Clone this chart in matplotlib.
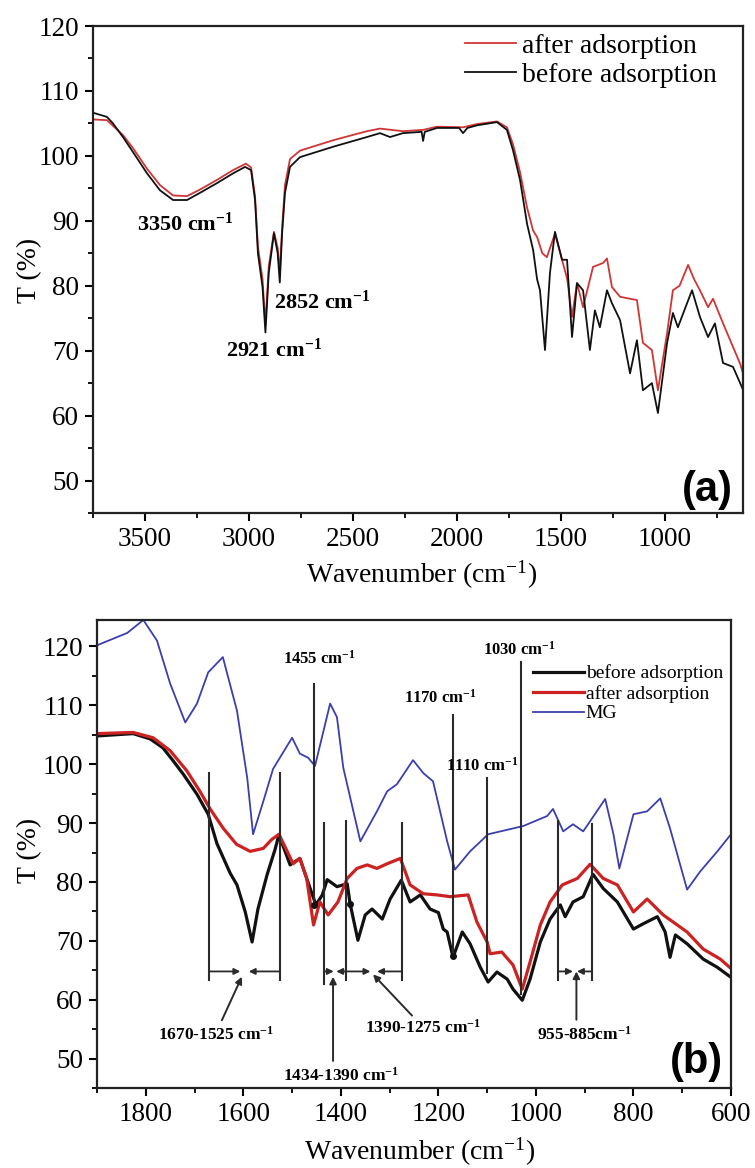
import matplotlib
matplotlib.use("Agg")
import matplotlib.pyplot as plt
from matplotlib.ticker import MultipleLocator

plt.rcParams['font.family'] = ['Liberation Serif', 'DejaVu Serif']
plt.rcParams['mathtext.default'] = 'regular'

# ---------------- Panel (a) data ----------------
a_wn_before = [3745, 3683, 3654, 3606, 3558, 3490, 3428, 3365, 3298, 3236, 3154, 3077, 3019, 2990,
               2971, 2957, 2935, 2921, 2905, 2880, 2862, 2852, 2841, 2827, 2803, 2755, 2596, 2433,
               2370, 2322, 2260, 2170, 2163, 2155, 2096, 1990, 1971, 1950, 1904, 1808, 1760, 1731,
               1697, 1663, 1634, 1615, 1601, 1577, 1553, 1529, 1495, 1471, 1447, 1423, 1394, 1361,
               1337, 1313, 1279, 1255, 1216, 1168, 1135, 1106, 1063, 1034, 990, 962, 938, 894, 870,
               832, 793, 760, 721, 673, 625]
a_T_before = [106.6, 106.0, 105.0, 102.9, 100.6, 97.3, 94.7, 93.2, 93.2, 94.3, 95.8, 97.3, 98.3, 97.8,
              93.2, 85.0, 79.8, 72.8, 82.0, 88.1, 85.0, 80.5, 88.0, 94.3, 98.3, 99.8, 101.4, 102.9,
              103.5, 102.9, 103.5, 103.7, 102.3, 103.7, 104.3, 104.3, 103.5, 104.3, 104.7, 105.2, 104.0, 100.9,
              96.3, 89.5, 85.5, 81.0, 79.3, 70.1, 82.0, 88.3, 84.0, 84.0, 72.1, 80.4, 79.3, 70.1,
              76.2, 73.6, 79.3, 77.3, 74.7, 66.5, 71.6, 63.9, 65.0, 60.4, 71.2, 75.8, 73.6, 77.3, 79.3,
              75.2, 72.1, 74.2, 68.1, 67.5, 64.0]

a_wn_after = [3745, 3683, 3606, 3558, 3490, 3428, 3365, 3298, 3236, 3154, 3077, 3015, 2990, 2971,
              2957, 2935, 2921, 2905, 2880, 2862, 2852, 2841, 2827, 2803, 2755, 2596, 2433, 2370,
              2260, 2163, 2096, 1971, 1904, 1808, 1760, 1731, 1697, 1663, 1634, 1615, 1590, 1568,
              1529, 1495, 1470, 1447, 1423, 1394, 1346, 1298, 1279, 1255, 1216, 1170, 1135, 1106,
              1063, 1034, 990, 962, 930, 889, 860, 832, 793, 769, 721, 639, 625]
a_T_after = [105.6, 105.5, 103.2, 101.2, 98.0, 95.5, 93.9, 93.8, 94.8, 96.3, 97.8, 98.8, 98.2, 93.8,
             86.0, 81.0, 74.0, 83.0, 88.3, 85.8, 82.0, 88.8, 95.5, 99.5, 100.8, 102.4, 103.8, 104.2,
             103.8, 104.0, 104.5, 104.4, 104.9, 105.3, 104.4, 101.8, 97.5, 92.0, 88.5, 87.5, 85.0, 84.4,
             88.0, 84.0, 81.0, 75.2, 80.4, 76.7, 82.9, 83.5, 84.2, 79.8, 78.3, 78.0, 77.8, 71.2,
             70.1, 63.9, 72.7, 79.3, 80.0, 83.2, 81.0, 79.3, 76.7, 78.0, 74.2, 68.0, 66.5]

a_labels = ["after adsorption", "before adsorption"]
a_peak_text = ["3350 cm$^{-1}$", "2852 cm$^{-1}$", "2921 cm$^{-1}$"]
a_peak_x = [3305, 2650, 2880]
a_peak_y = [89.5, 77.5, 70.0]

# ---------------- Panel (b) data ----------------
b_wn_before = [1900, 1826, 1791, 1765, 1744, 1723, 1695, 1672, 1654, 1627, 1613, 1596, 1582, 1570,
               1551, 1535, 1527, 1504, 1484, 1463, 1451, 1438, 1428, 1408, 1387, 1381, 1365, 1350,
               1336, 1315, 1299, 1276, 1258, 1237, 1217, 1200, 1190, 1182, 1170, 1151, 1135, 1114,
               1098, 1080, 1059, 1047, 1028, 1012, 991, 971, 950, 940, 924, 903, 883, 862, 833, 800,
               780, 751, 735, 725, 714, 690, 657, 628, 600]
b_T_before = [104.8, 105.2, 104.3, 102.8, 100.6, 98.3, 94.9, 91.5, 86.5, 81.5, 79.5, 74.9, 69.8, 75.4,
              81.3, 85.5, 88.0, 82.9, 84.0, 78.9, 76.1, 77.8, 80.4, 79.2, 79.7, 76.3, 70.1, 74.4,
              75.4, 73.7, 77.1, 80.3, 76.6, 77.8, 75.4, 74.8, 72.0, 71.5, 67.2, 71.5, 69.5, 65.5,
              63.0, 64.7, 63.5, 61.8, 59.9, 63.5, 69.8, 73.7, 76.1, 74.1, 76.6, 77.5, 81.3, 78.9, 76.6, 72.0,
              72.9, 74.1, 71.5, 67.2, 71.0, 69.5, 66.9, 65.5, 63.8]

b_wn_after = [1900, 1826, 1785, 1750, 1716, 1689, 1668, 1641, 1614, 1586, 1559, 1542, 1527, 1510,
              1498, 1484, 1470, 1456, 1443, 1426, 1406, 1387, 1367, 1346, 1326, 1305, 1278, 1258,
              1231, 1203, 1176, 1139, 1121, 1100, 1094, 1070, 1047, 1028, 1012, 991, 971, 946, 915,
              889, 862, 833, 800, 772, 739, 690, 657, 622, 600]
b_T_after = [105.2, 105.4, 104.5, 102.3, 98.9, 95.4, 92.4, 89.1, 86.4, 85.2, 85.7, 87.2, 88.1, 85.2,
             83.1, 84.0, 80.6, 72.7, 76.6, 74.4, 76.6, 80.6, 82.3, 82.9, 82.3, 83.1, 84.0, 79.5,
             78.0, 77.8, 77.5, 77.8, 73.2, 69.8, 67.8, 68.1, 65.9, 61.8, 66.4, 72.7, 76.6, 79.5, 80.6,
             83.0, 80.6, 79.5, 74.9, 77.1, 74.4, 71.5, 68.6, 66.9, 65.3]

b_wn_mg = [1900, 1838, 1805, 1777, 1750, 1719, 1695, 1672, 1642, 1613, 1592, 1580, 1559, 1539, 1500,
           1484, 1467, 1453, 1422, 1408, 1395, 1360, 1326, 1305, 1285, 1252, 1231, 1211, 1182, 1166,
           1135, 1098, 1026, 977, 965, 944, 924, 903, 889, 858, 841, 829, 800, 772, 745, 725, 690,
           663, 628, 600]
b_T_mg = [120.2, 122.3, 124.5, 121.0, 113.7, 107.1, 110.3, 115.6, 118.2, 109.1, 97.7, 88.1, 93.7, 99.2, 104.5,
          101.8, 101.1, 99.7, 110.3, 108.0, 99.4, 86.9, 92.0, 95.4, 96.6, 100.7, 98.5, 97.1, 86.9, 82.1,
          85.2, 88.1, 89.5, 91.2, 92.4, 88.6, 89.8, 88.6, 90.3, 94.1, 88.1, 82.3, 91.5, 92.0, 94.2, 89.1, 78.7,
          81.8, 85.2, 88.1]

b_labels = ["before adsorption", "after adsorption", "MG"]

# peak marker lines: position, top, bottom, label, label x, label y
b_peak_pos = [1455, 1170, 1100, 1030]
b_peak_top = [113.7, 108.3, 97.7, 117.3]
b_peak_bot = [76.1, 67.5, 64.5, 61.0]
b_peak_text = ["1455 cm$^{-1}$", "1170 cm$^{-1}$", "1110 cm$^{-1}$", "1030 cm$^{-1}$"]
b_peak_tx = [1445, 1196, 1110, 1034]
b_peak_ty = [118.0, 111.3, 99.7, 119.4]

# range boxes
b_range_lines = [1670, 1525, 1434, 1390, 1275, 955, 885]
b_range_top = [98.5, 98.5, 90.0, 90.3, 90.0, 90.3, 89.8]
b_range_bot = [63.3, 63.3, 62.7, 63.3, 63.3, 63.3, 63.3]
b_ranges = [(1670, 1525), (1434, 1390), (1390, 1275), (955, 885)]
b_range_text = ["1670-1525 cm$^{-1}$", "1434-1390 cm$^{-1}$", "1390-1275 cm$^{-1}$", "955-885cm$^{-1}$"]
b_range_tx = [1656, 1400, 1231, 901]
b_range_ty = [54.1, 47.1, 55.3, 54.0]
b_arrow_from = [(1644, 56.5), (1416, 49.6), (1254, 57.3), (917, 56.6)]
b_arrow_to = [(1603, 63.9), (1416, 63.9), (1334, 64.3), (917, 64.8)]
b_arrow_y = 64.8

W, H = 755, 1168
fig = plt.figure(figsize=(W / 100, H / 100), dpi=100)

BLACK = '#111111'
RED_A = '#d03535'
RED_B = '#cc2222'
BLUE = '#3b3fae'
TICKFS = 19.5


def style_axes(ax):
    for s in ax.spines.values():
        s.set_linewidth(1.6)
        s.set_color('#222222')
    ax.tick_params(which='major', direction='out', length=6, width=1.5, labelsize=TICKFS,
                   top=False, right=False, pad=4)
    ax.tick_params(which='minor', direction='out', length=3.5, width=1.3, top=False, right=False)


# ---------- (a) ----------
axA = fig.add_axes([93 / W, 1 - 513 / H, 650 / W, 487 / H])
axA.plot(a_wn_after, a_T_after, color=RED_A, lw=1.3, label=a_labels[0])
axA.plot(a_wn_before, a_T_before, color=BLACK, lw=1.3, label=a_labels[1])
axA.set_xlim(3750, 625)
axA.set_ylim(45, 120)
axA.xaxis.set_major_locator(MultipleLocator(500))
axA.xaxis.set_minor_locator(MultipleLocator(250))
axA.yaxis.set_major_locator(MultipleLocator(10))
axA.yaxis.set_minor_locator(MultipleLocator(5))
axA.set_yticks(range(50, 121, 10))
style_axes(axA)
h, l = axA.get_legend_handles_labels()
axA.legend(h, l, loc='upper left', bbox_to_anchor=(0.572, 0.985), frameon=False, fontsize=20,
           handlelength=1.85, handletextpad=0.2, labelspacing=0.12, borderpad=0, borderaxespad=0)
for t, x, y in zip(a_peak_text, a_peak_x, a_peak_y):
    axA.text(x, y, t, ha='center', va='center', fontsize=16, fontweight='bold')
fig.text(707 / W, 1 - 490 / H, "(a)", ha='center', va='center', fontsize=30, fontweight='bold',
         family=['Liberation Sans', 'DejaVu Sans'])
fig.text(30 / W, 1 - 270 / H, "T (%)", rotation=90, ha='center', va='center', fontsize=20)
fig.text(422 / W, 1 - 575 / H, "Wavenumber (cm$^{-1}$)", ha='center', va='center', fontsize=20)

# ---------- (b) ----------
axB = fig.add_axes([97 / W, 1 - 1088 / H, 634 / W, 468 / H])
axB.plot(b_wn_before, b_T_before, color=BLACK, lw=2.3, label=b_labels[0])
axB.plot(b_wn_after, b_T_after, color=RED_B, lw=2.3, label=b_labels[1])
axB.plot(b_wn_mg, b_T_mg, color=BLUE, lw=1.3, label=b_labels[2])
axB.set_xlim(1900, 600)
axB.set_ylim(45, 124.5)
axB.xaxis.set_major_locator(MultipleLocator(200))
axB.xaxis.set_minor_locator(MultipleLocator(100))
axB.yaxis.set_minor_locator(MultipleLocator(5))
axB.set_yticks(range(50, 121, 10))
style_axes(axB)

LC = '#2a2a2a'
for p, t0, t1 in zip(b_peak_pos, b_peak_top, b_peak_bot):
    axB.plot([p, p], [t1, t0], color=LC, lw=1.5)
for p, t0, t1 in zip(b_range_lines, b_range_top, b_range_bot):
    axB.plot([p, p], [t1, t0], color=LC, lw=1.5)
axB.plot([1455, 1381, 1170], [76.1, 76.3, 67.5], 'o', color=BLACK, ms=4)

for t, x, y in zip(b_peak_text, b_peak_tx, b_peak_ty):
    axB.text(x, y, t, ha='center', va='center', fontsize=12, fontweight='bold')

for (w1, w2) in b_ranges:
    mid = (w1 + w2) / 2
    g = (w1 - w2) * 0.06
    ap = dict(arrowstyle='-|>', color=LC, lw=1.3, mutation_scale=9, shrinkA=0, shrinkB=0)
    axB.annotate('', xy=(mid + g, b_arrow_y), xytext=(w1, b_arrow_y), arrowprops=ap)
    axB.annotate('', xy=(mid - g, b_arrow_y), xytext=(w2, b_arrow_y), arrowprops=ap)

for t, x, y, a0, a1 in zip(b_range_text, b_range_tx, b_range_ty, b_arrow_from, b_arrow_to):
    axB.text(x, y, t, ha='center', va='center', fontsize=12.5, fontweight='bold')
    axB.annotate('', xy=a1, xytext=a0,
                 arrowprops=dict(arrowstyle='-|>', color=LC, lw=1.4, mutation_scale=10,
                                 shrinkA=0, shrinkB=0))

h, l = axB.get_legend_handles_labels()
axB.legend(h, l, loc='upper left', bbox_to_anchor=(0.688, 0.905), frameon=False, fontsize=14,
           handlelength=2.6, handletextpad=0.1, labelspacing=0.12, borderpad=0, borderaxespad=0)

fig.text(696 / W, 1 - 1062 / H, "(b)", ha='center', va='center', fontsize=30, fontweight='bold',
         family=['Liberation Sans', 'DejaVu Sans'])
fig.text(30 / W, 1 - 850 / H, "T (%)", rotation=90, ha='center', va='center', fontsize=20)
fig.text(420 / W, 1 - 1152 / H, "Wavenumber (cm$^{-1}$)", ha='center', va='center', fontsize=20)

fig.savefig("out.png", dpi=100)
